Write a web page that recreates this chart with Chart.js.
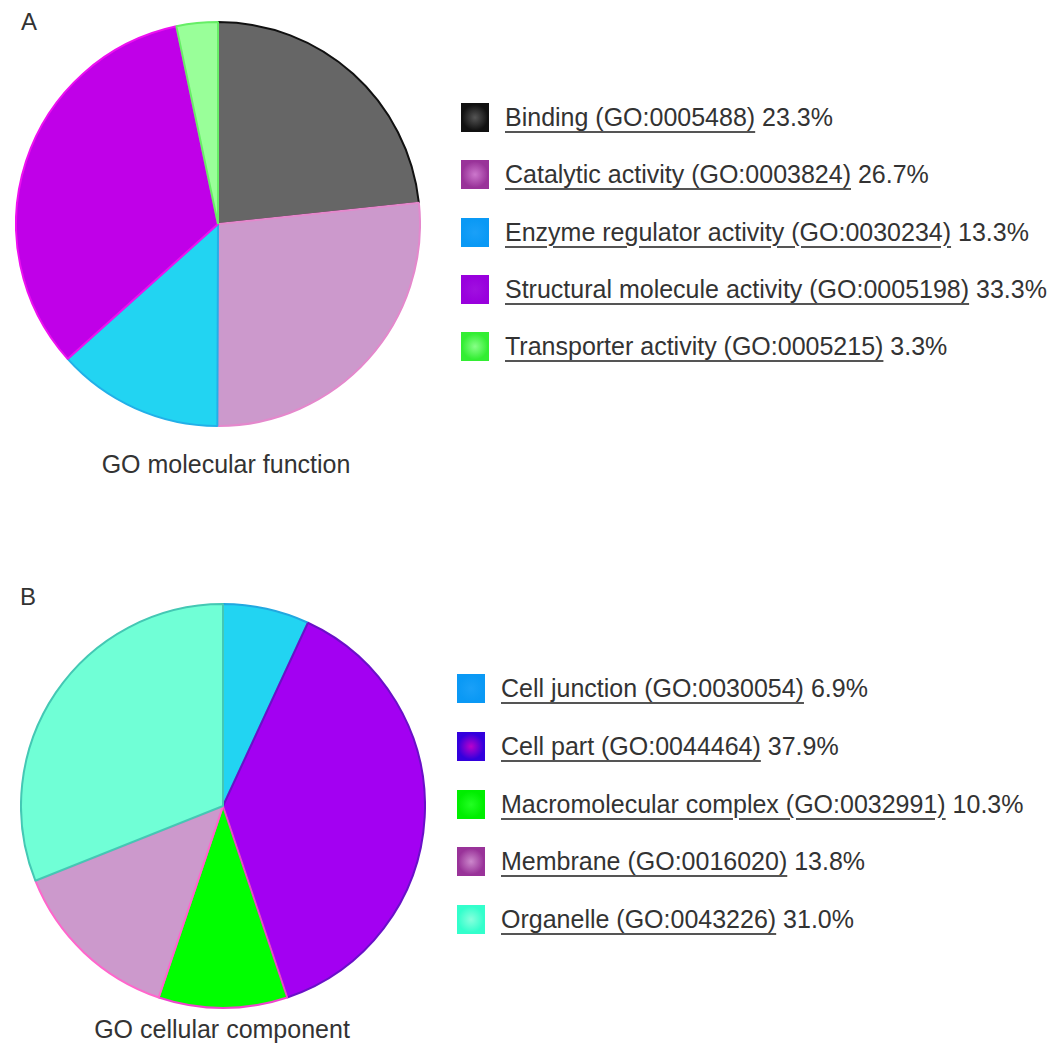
<!DOCTYPE html>
<html>
<head>
<meta charset="utf-8">
<script src="https://cdn.jsdelivr.net/npm/chart.js@4/dist/chart.umd.min.js"></script>
<style>
  html, body { margin: 0; padding: 0; background: #fff; }
  body { width: 1055px; height: 1058px; position: relative; overflow: hidden;
         font-family: "Liberation Sans", Arial, sans-serif; color: #333; }
  .panel-label { position: absolute; font-size: 24px; line-height: 24px; color: #333; }
  .pie { position: absolute; }
  .title { position: absolute; font-size: 25px; line-height: 25px; color: #333; white-space: nowrap;
           transform: translateX(-50%); }
  .legend { position: absolute; }
  .row { position: absolute; left: 0; display: flex; align-items: center; white-space: nowrap; height: 29px; }
  .icon { width: 28px; height: 29px; box-sizing: border-box; margin-right: 16px; }
  .txt { font-size: 25px; line-height: 29px; color: #333; }
  .lab { text-decoration: underline; text-decoration-thickness: 2px; text-underline-offset: 5px;
         text-decoration-color: #555; }
</style>
</head>
<body>
<div class="panel-label" style="left:21px; top:10px;">A</div>
<div class="pie" style="left:15px; top:21px; width:406px; height:406px;"><canvas id="pieA" width="406" height="406"></canvas></div>
<div class="title" style="left:226px; top:452px;">GO molecular function</div>
<div class="legend" id="legA" style="left:461px; top:103px;"></div>

<div class="panel-label" style="left:20px; top:585px;">B</div>
<div class="pie" style="left:20px; top:603px; width:406px; height:406px;"><canvas id="pieB" width="406" height="406"></canvas></div>
<div class="title" style="left:222px; top:1017px;">GO cellular component</div>
<div class="legend" id="legB" style="left:457px; top:674px;"></div>

<script>
// ---- Panel A: GO molecular function ----
const catsA = ["Binding (GO:0005488)", "Catalytic activity (GO:0003824)", "Enzyme regulator activity (GO:0030234)",
               "Structural molecule activity (GO:0005198)", "Transporter activity (GO:0005215)"];
const valsA = [23.3, 26.7, 13.3, 33.3, 3.3];
const pctA = ["23.3%", "26.7%", "13.3%", "33.3%", "3.3%"];
const fillA = ["#666666", "#cc99cc", "#22d4f2", "#c000e8", "#99ff99"];
const edgeA = ["#111111", "#e488cc", "#22b0e8", "#ee10f0", "#66ee66"];
const iconA = [["#111111", "#555555"], ["#993399", "#cc77cc"], ["#0a99f5", "#1aa0f8"], ["#9900dd", "#a010e0"], ["#33ee33", "#88ff88"]];

// ---- Panel B: GO cellular component ----
const catsB = ["Cell junction (GO:0030054)", "Cell part (GO:0044464)", "Macromolecular complex (GO:0032991)",
               "Membrane (GO:0016020)", "Organelle (GO:0043226)"];
const valsB = [6.9, 37.9, 10.3, 13.8, 31.0];
const pctB = ["6.9%", "37.9%", "10.3%", "13.8%", "31.0%"];
const fillB = ["#22d4f2", "#a300f2", "#00ff00", "#cc99cc", "#70ffd6"];
const edgeB = ["#22a8e0", "#6a10c8", "#ee44cc", "#ff66cc", "#44c8b4"];
const iconB = [["#0a99f5", "#1aa0f8"], ["#3300dd", "#bb00cc"], ["#00ee00", "#22ff22"], ["#993399", "#cc88cc"], ["#33ffcc", "#88ffdd"]];

function makePie(id, cats, vals, fills, edges) {
  new Chart(document.getElementById(id), {
    type: 'pie',
    data: { labels: cats, datasets: [{ data: vals, backgroundColor: fills, borderColor: edges, borderWidth: 2 }] },
    options: {
      responsive: false, animation: false, rotation: 0,
      layout: { padding: 0 },
      plugins: { legend: { display: false }, tooltip: { enabled: false }, title: { display: false } }
    }
  });
}

function makeLegend(id, cats, pcts, icons, step) {
  const host = document.getElementById(id);
  cats.forEach((c, i) => {
    const row = document.createElement('div');
    row.className = 'row';
    row.style.top = (i * step) + 'px';
    const ic = document.createElement('div');
    ic.className = 'icon';
    ic.style.background = `radial-gradient(circle, ${icons[i][1]} 0%, ${icons[i][0]} 75%)`;
    ic.style.border = `2px solid ${icons[i][0]}`;
    const t = document.createElement('div');
    t.className = 'txt';
    const lab = document.createElement('span');
    lab.className = 'lab';
    lab.textContent = c;
    t.appendChild(lab);
    t.appendChild(document.createTextNode(' ' + pcts[i]));
    row.appendChild(ic);
    row.appendChild(t);
    host.appendChild(row);
  });
}

makePie('pieA', catsA, valsA, fillA, edgeA);
makePie('pieB', catsB, valsB, fillB, edgeB);
makeLegend('legA', catsA, pctA, iconA, 57.3);
makeLegend('legB', catsB, pctB, iconB, 57.8);
</script>
</body>
</html>
